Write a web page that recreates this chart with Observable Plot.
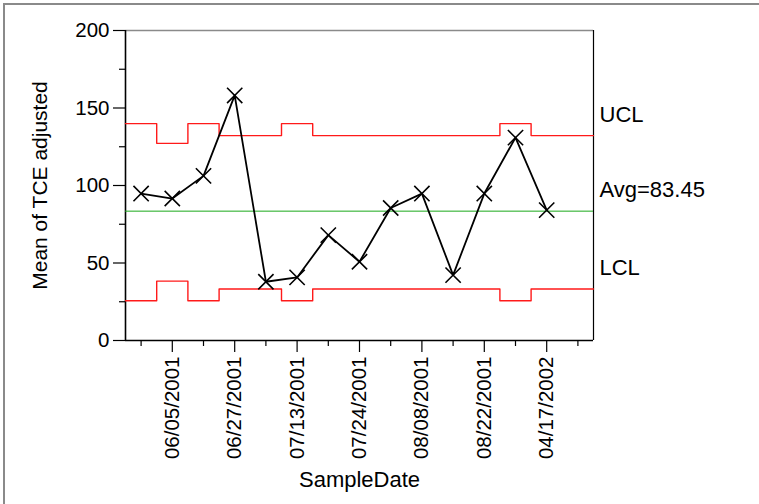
<!DOCTYPE html>
<html>
<head>
<meta charset="utf-8">
<script src="https://cdn.jsdelivr.net/npm/d3@7"></script>
<script src="https://cdn.jsdelivr.net/npm/@observablehq/plot@0.6"></script>
<style>
  body { margin: 0; background: #fff; }
  #wrap { position: relative; width: 759px; height: 504px; overflow: hidden; }
  #border { position: absolute; left: 3px; top: 3px; width: 800px; height: 600px;
            border-top: 2px solid #8a8a8a; border-left: 2px solid #8a8a8a; }
  #chart { position: absolute; left: 0; top: 0; }
</style>
</head>
<body>
<div id="wrap"><div id="border"></div><div id="chart"></div></div>
<script>
// Subgroup positions along the SampleDate axis (15 slots, last one without a sample)
const sampleIndex = [1, 2, 3, 4, 5, 6, 7, 8, 9, 10, 11, 12, 13, 14, 15];

// Labels shown on every other subgroup
const labelIndex = [2, 4, 6, 8, 10, 12, 14];
const dateLabels = ["06/05/2001", "06/27/2001", "07/13/2001", "07/24/2001", "08/08/2001", "08/22/2001", "04/17/2002"];

// Subgroup means of TCE adjusted
const means = [94.8, 91.6, 106.2, 158.1, 37.9, 40.7, 68.0, 50.8, 85.5, 94.8, 42.2, 94.8, 130.9, 84.1, null];

// Control limits per subgroup (they vary with subgroup size)
const ucl = [139.9, 127.2, 139.9, 132.2, 132.2, 139.9, 132.2, 132.2, 132.2, 132.2, 132.2, 132.2, 139.9, 132.2, 132.2];
const lcl = [25.6, 38.3, 25.6, 33.2, 33.2, 25.6, 33.2, 33.2, 33.2, 33.2, 33.2, 33.2, 25.6, 33.2, 33.2];
const avg = 83.45;

const yMajor = [0, 50, 100, 150, 200];
const yMinor = [25, 75, 125, 175];
const xMinor = [1, 3, 5, 7, 9, 11, 13, 15];

const points = sampleIndex.map((i, k) => ({i, mean: means[k]})).filter(d => d.mean != null);

// Each limit is held flat across its subgroup's slot
const steps = vals => sampleIndex.flatMap((i, k) => [{x: i - 0.5, y: vals[k]}, {x: i + 0.5, y: vals[k]}]);

const last = sampleIndex.length - 1;
const limitLabels = [
  {label: "UCL", y: ucl[last]},
  {label: "Avg=" + avg.toFixed(2), y: avg},
  {label: "LCL", y: lcl[last]}
];

const font = "'Liberation Sans', Arial, Helvetica, sans-serif";

const chart = Plot.plot({
  width: 759,
  height: 504,
  marginLeft: 125,
  marginRight: 166,
  marginTop: 30,
  marginBottom: 164,
  style: {fontFamily: font, fontSize: "20px", color: "#000", background: "transparent"},
  x: {domain: [0.5, 15.5], axis: null},
  y: {domain: [0, 200], axis: null},
  marks: [
    // frame
    Plot.ruleY([200], {stroke: "#8a8a8a", strokeWidth: 1.5}),
    Plot.ruleX([15.5], {stroke: "#000", strokeWidth: 1.2}),
    // y axis
    Plot.axisY(yMajor, {tickSize: 12, tickPadding: 4, fontSize: 20.5, label: null, strokeWidth: 1.2}),
    Plot.axisY(yMinor, {tickSize: 6, tickFormat: () => "", label: null, strokeWidth: 1.2}),
    // x axis
    Plot.axisX(labelIndex, {tickSize: 12, tickPadding: 4, tickRotate: -90, fontSize: 20.5,
      tickFormat: i => dateLabels[labelIndex.indexOf(i)], label: null, strokeWidth: 1.2}),
    Plot.axisX(xMinor, {tickSize: 6, tickFormat: () => "", label: null, strokeWidth: 1.2}),
    Plot.ruleX([0.5], {stroke: "#000", strokeWidth: 1.6}),
    Plot.ruleY([0], {stroke: "#000", strokeWidth: 1.6}),
    // centre line and limits
    Plot.ruleY([avg], {stroke: "#1aa81a", strokeWidth: 1}),
    Plot.line(steps(ucl), {x: "x", y: "y", stroke: "#ff1a1a", strokeWidth: 1.4}),
    Plot.line(steps(lcl), {x: "x", y: "y", stroke: "#ff1a1a", strokeWidth: 1.4}),
    // subgroup means
    Plot.line(points, {x: "i", y: "mean", stroke: "#000", strokeWidth: 1.8}),
    Plot.dot(points, {x: "i", y: "mean", symbol: "times", r: 7, stroke: "#000", strokeWidth: 1.6}),
    // limit labels
    Plot.text(limitLabels, {x: 15.5, y: "y", text: "label", dx: 6, dy: -21, textAnchor: "start", fontSize: 22, fill: "#000"}),
    // axis titles
    Plot.text(["Mean of TCE adjusted"], {frameAnchor: "left", textAnchor: "middle", dx: -85, rotate: -90, fontSize: 21, fill: "#000"}),
    Plot.text(["SampleDate"], {frameAnchor: "bottom", textAnchor: "middle", dy: 146, fontSize: 22, fill: "#000"})
  ]
});

document.getElementById("chart").appendChild(chart);
</script>
</body>
</html>
